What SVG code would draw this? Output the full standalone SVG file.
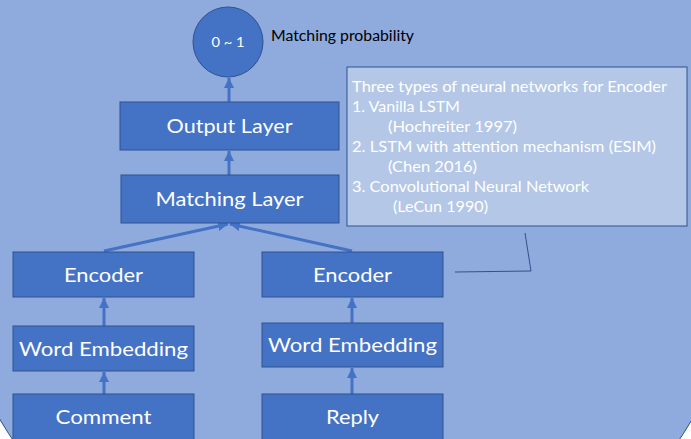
<svg xmlns="http://www.w3.org/2000/svg" width="691" height="439" viewBox="0 0 691 439">
<style>
.node{fill:#4472C4;stroke:#2F528F;stroke-width:1}
.lbl{font-family:Lato,"Open Sans",sans-serif;font-size:20px;fill:#fff;text-anchor:middle}
.note{font-family:Lato,"Open Sans",sans-serif;font-size:15px;fill:#fff}
.conn{stroke:#4472C4;stroke-width:3;fill:none;marker-end:url(#ah)}
</style>
<defs>
<marker id="ah" markerUnits="userSpaceOnUse" markerWidth="12" markerHeight="12" refX="10" refY="5" orient="auto">
<path d="M0,0 L10,5 L0,10 Z" fill="#4472C4"/>
</marker>
</defs>
<rect x="0" y="0" width="691" height="439" fill="#fff"/>
<ellipse id="background" cx="346" cy="200" rx="406" ry="420" fill="#8FAADC" stroke="#2F528F" stroke-width="1"/>

<g id="connectors">
<line class="conn" x1="229" y1="175" x2="229" y2="151"/>
<line class="conn" x1="229" y1="102" x2="229" y2="78"/>
<line class="conn" x1="104" y1="326" x2="104" y2="298"/>
<line class="conn" x1="104" y1="394" x2="104" y2="372"/>
<line class="conn" x1="352" y1="323" x2="352" y2="298"/>
<line class="conn" x1="352" y1="394" x2="352" y2="368"/>
<line class="conn" x1="104" y1="251" x2="228" y2="224"/>
<line class="conn" x1="352" y1="251" x2="230" y2="224"/>
<polyline points="525,233 531,271 455,272" fill="none" stroke="#2F528F" stroke-width="1"/>
</g>

<g id="prob">
<circle cx="228" cy="42" r="35" class="node"/>
<text x="228" y="47" font-family="Lato,'Open Sans',sans-serif" font-size="14" fill="#fff" text-anchor="middle" textLength="33" lengthAdjust="spacingAndGlyphs">0 ~ 1</text>
</g>
<g id="prob-label">
<text x="271" y="41" font-family="Lato,'Open Sans',sans-serif" font-size="14.5" fill="#000" textLength="143" lengthAdjust="spacingAndGlyphs">Matching probability</text>
</g>

<g id="output-layer">
<rect x="120" y="102" width="219" height="48" class="node"/>
<text x="229.5" y="133" class="lbl" textLength="126" lengthAdjust="spacingAndGlyphs">Output Layer</text>
</g>
<g id="matching-layer">
<rect x="121" y="175" width="218" height="48" class="node"/>
<text x="229.5" y="206" class="lbl" textLength="148" lengthAdjust="spacingAndGlyphs">Matching Layer</text>
</g>

<g id="encoder-left">
<rect x="13" y="252" width="181" height="45" class="node"/>
<text x="103.5" y="282" class="lbl" textLength="79" lengthAdjust="spacingAndGlyphs">Encoder</text>
</g>
<g id="embedding-left">
<rect x="13" y="326" width="181" height="45" class="node"/>
<text x="103.5" y="355.5" class="lbl" textLength="169" lengthAdjust="spacingAndGlyphs">Word Embedding</text>
</g>
<g id="comment">
<rect x="13" y="394" width="181" height="50" class="node"/>
<text x="103.5" y="424" class="lbl" textLength="96" lengthAdjust="spacingAndGlyphs">Comment</text>
</g>

<g id="encoder-right">
<rect x="262" y="252" width="181" height="45" class="node"/>
<text x="352.5" y="282" class="lbl" textLength="79" lengthAdjust="spacingAndGlyphs">Encoder</text>
</g>
<g id="embedding-right">
<rect x="262" y="323" width="181" height="44" class="node"/>
<text x="352.5" y="352" class="lbl" textLength="169" lengthAdjust="spacingAndGlyphs">Word Embedding</text>
</g>
<g id="reply">
<rect x="262" y="394" width="181" height="50" class="node"/>
<text x="352.5" y="424" class="lbl" textLength="53" lengthAdjust="spacingAndGlyphs">Reply</text>
</g>

<g id="callout">
<rect x="347" y="67" width="340" height="159" fill="#B4C7E7" stroke="#2F528F" stroke-width="1"/>
<text class="note" x="352" y="92" textLength="315" lengthAdjust="spacingAndGlyphs">Three types of neural networks for Encoder</text>
<text class="note" x="352" y="112" textLength="108" lengthAdjust="spacingAndGlyphs">1. Vanilla LSTM</text>
<text class="note" x="388" y="132" textLength="129" lengthAdjust="spacingAndGlyphs">(Hochreiter 1997)</text>
<text class="note" x="352" y="152" textLength="304" lengthAdjust="spacingAndGlyphs">2. LSTM with attention mechanism (ESIM)</text>
<text class="note" x="388" y="172" textLength="89" lengthAdjust="spacingAndGlyphs">(Chen 2016)</text>
<text class="note" x="352" y="192" textLength="237" lengthAdjust="spacingAndGlyphs">3. Convolutional Neural Network</text>
<text class="note" x="393" y="212" textLength="95" lengthAdjust="spacingAndGlyphs">(LeCun 1990)</text>
</g>
</svg>
